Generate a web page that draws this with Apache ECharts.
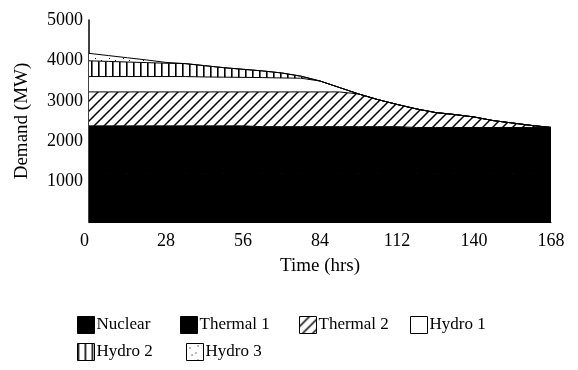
<!DOCTYPE html>
<html>
<head>
<meta charset="utf-8">
<script src="https://cdn.jsdelivr.net/npm/echarts@6/dist/echarts.min.js"></script>
<style>
html,body{margin:0;padding:0;background:#fff;}
#chart{width:578px;height:370px;}
</style>
</head>
<body>
<div id="chart"></div>
<script>
// ---- data ----
const times = [0,7,14,21,28,35,42,49,56,63,70,77,84,91,98,105,112,119,126,133,140,147,154,161,168];
const seriesNames = ['Nuclear','Thermal 1','Thermal 2','Hydro 1','Hydro 2','Hydro 3'];
const nuclear  = [1200,1200,1200,1200,1200,1200,1200,1200,1200,1200,1200,1200,1200,1200,1200,1200,1200,1200,1200,1200,1200,1200,1200,1200,1200];
const thermal1 = [1180,1180,1180,1180,1180,1180,1180,1180,1180,1160,1160,1160,1160,1160,1160,1160,1160,1140,1140,1140,1140,1140,1140,1140,1140];
const thermal2 = [840,840,840,840,840,840,840,840,840,860,860,860,860,860,810,670,550,460,370,320,260,170,110,50,0];
const hydro1   = [380,380,380,380,380,380,370,365,360,355,345,340,270,110,0,0,0,0,0,0,0,0,0,0,0];
const hydro2   = [390,375,360,345,330,320,280,235,200,165,125,50,0,0,0,0,0,0,0,0,0,0,0,0,0];
const hydro3   = [185,145,105,65,20,0,0,0,0,0,0,0,0,0,0,0,0,0,0,0,0,0,0,0,0];
const yTicks = {min:0, max:5000, step:1000};

// ---- patterns ----
function makeTile(w, h, draw){
  const c = document.createElement('canvas');
  c.width = w; c.height = h;
  const ctx = c.getContext('2d');
  ctx.fillStyle = '#fff'; ctx.fillRect(0,0,w,h);
  ctx.strokeStyle = '#000'; ctx.fillStyle = '#000';
  draw(ctx);
  return {image: c, repeat: 'repeat'};
}
const diag = makeTile(10,10,ctx=>{
  ctx.lineWidth = 1.5;
  ctx.beginPath();
  ctx.moveTo(-1,11); ctx.lineTo(11,-1);
  ctx.moveTo(-6,6); ctx.lineTo(6,-6);
  ctx.moveTo(4,16); ctx.lineTo(16,4);
  ctx.stroke();
});
const vert = makeTile(7,4,ctx=>{ ctx.fillRect(0,0,1.6,4); });
const speck = makeTile(14,14,ctx=>{
  ctx.fillRect(3,4,1,1); ctx.fillRect(9,9,1,1); ctx.fillRect(5,11,1,1); ctx.fillRect(11,2,1,1);
});
const fills = ['#000','#000',diag,'#fff',vert,speck];
const values = [nuclear,thermal1,thermal2,hydro1,hydro2,hydro3];

const font = 'Liberation Serif';
// legend placement (one legend per item, two rows)
const legendPos = [[77,316],[180,316],[299,316],[410,316],[77,343],[186,343]];
const legends = seriesNames.map((n,i)=>({
  left:legendPos[i][0], top:legendPos[i][1], padding:0,
  itemWidth:17, itemHeight:17, icon:'rect',
  textStyle:{fontFamily:font,fontSize:17,color:'#000',padding:[3,0,0,-3]},
  data:[{name:n, icon:'rect', itemStyle:{color:fills[i],borderColor:'#000',borderWidth:1}}]
}));

const chart = echarts.init(document.getElementById('chart'));
chart.setOption({
  animation:false,
  backgroundColor:'#fff',
  grid:{left:89,right:27,top:20,bottom:148},
  legend: legends,
  xAxis:{
    type:'category', data:times.map(String), boundaryGap:false,
    axisLine:{show:true,lineStyle:{color:'#000',width:1}},
    axisTick:{show:false},
    axisLabel:{interval:3,margin:10,fontFamily:font,fontSize:18,color:'#000',alignMinLabel:'right'},
    name:'Time (hrs)', nameLocation:'middle', nameGap:35,
    nameTextStyle:{fontFamily:font,fontSize:19,color:'#000'}
  },
  yAxis:{
    type:'value', min:yTicks.min, max:yTicks.max, interval:yTicks.step,
    axisLine:{show:true,lineStyle:{color:'#000',width:1.5}},
    axisTick:{show:false}, splitLine:{show:false},
    axisLabel:{showMinLabel:false,margin:6,fontFamily:font,fontSize:18,color:'#000',formatter:v=>String(v)},
    name:'Demand (MW)', nameLocation:'middle', nameGap:57, nameRotate:90,
    nameTextStyle:{fontFamily:font,fontSize:19,color:'#000'}
  },
  series: seriesNames.map((n,i)=>({
    name:n, type:'line', stack:'total', data:values[i],
    showSymbol:false, symbol:'none',
    lineStyle:{color:'#000',width:1},
    itemStyle:{color:fills[i]},
    areaStyle:{color:fills[i],opacity:1},
    z: 2
  }))
});
</script>
</body>
</html>
